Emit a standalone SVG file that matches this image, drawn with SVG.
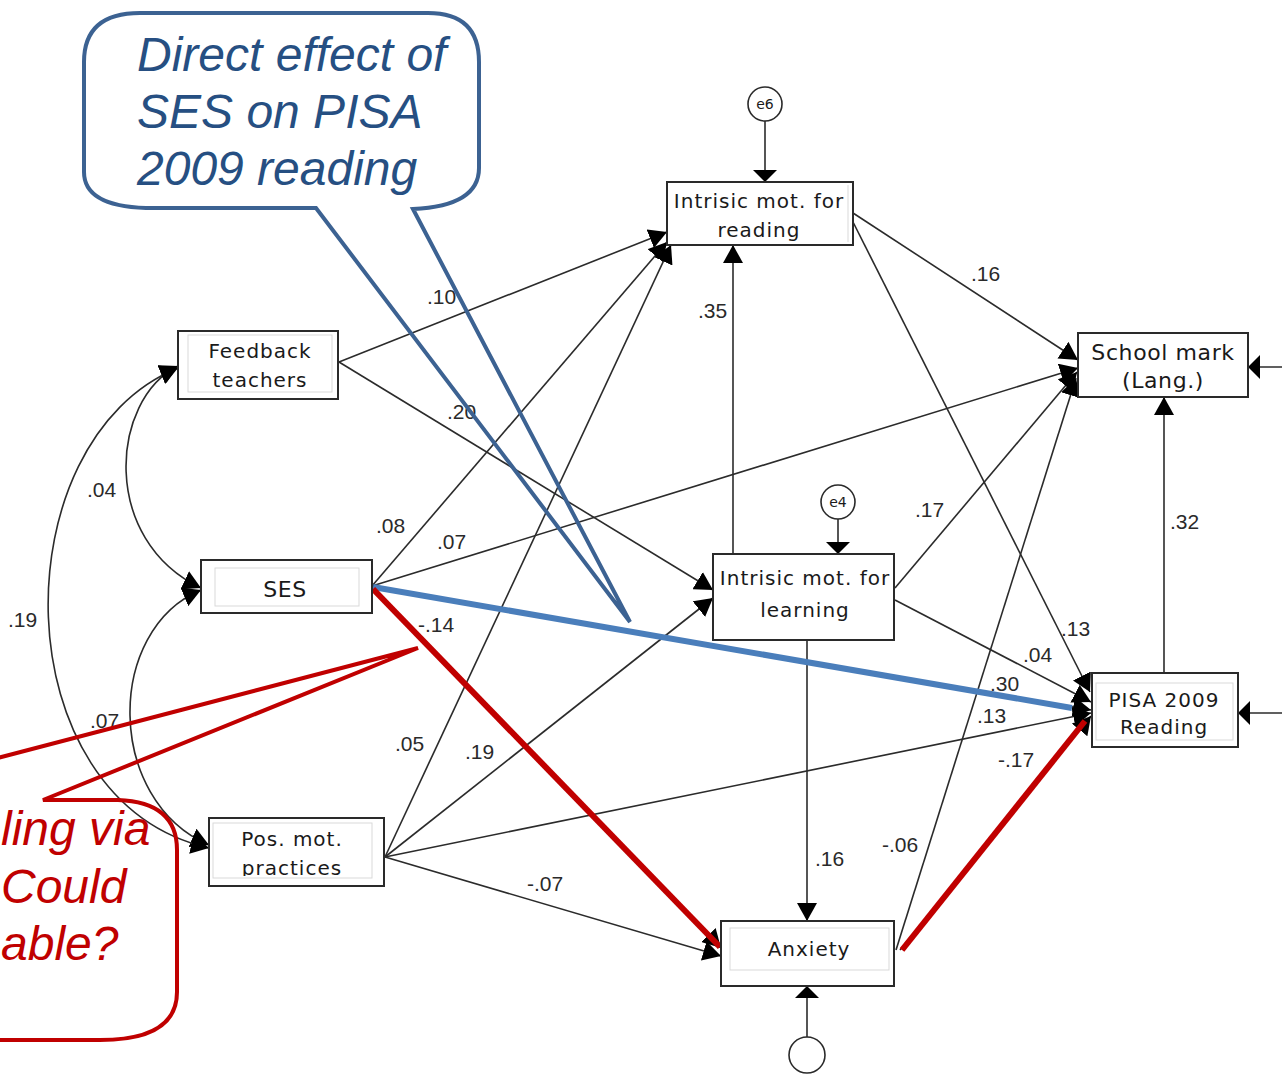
<svg xmlns="http://www.w3.org/2000/svg" width="1282" height="1075" viewBox="0 0 1282 1075">
  <defs>
    <style>
      .box { fill: #ffffff; stroke: #2a2a2a; stroke-width: 2; }
      .inner { fill: none; stroke: #d9d9d9; stroke-width: 1; }
      .lbl { font-family: "DejaVu Sans", sans-serif; font-size: 20px; letter-spacing: 1px; fill: #1a1a1a; text-anchor: middle; }
      .err { fill: #ffffff; stroke: #2a2a2a; stroke-width: 1.6; }
      .errt { font-family: "DejaVu Sans", sans-serif; font-size: 14px; fill: #1a1a1a; text-anchor: middle; }
      .path { fill: none; stroke: #2b2b2b; stroke-width: 1.6; marker-end: url(#ah); }
      .cov { fill: none; stroke: #2b2b2b; stroke-width: 1.6; marker-start: url(#ah); marker-end: url(#ah); }
      .resid { fill: none; stroke: #2b2b2b; stroke-width: 1.6; marker-end: url(#ahf); }
      .coef { font-family: "Liberation Sans", Arial, sans-serif; font-size: 21px; fill: #2a2a2a; }
      .blueline { stroke: #4a7ebb; stroke-width: 6; fill: none; }
      .redline { stroke: #c00000; stroke-width: 6; fill: none; }
      .bcall { fill: none; stroke: #3c6292; stroke-width: 4; stroke-linejoin: miter; }
      .rcall { fill: none; stroke: #c00000; stroke-width: 4; stroke-linejoin: miter; }
      .btxt { font-family: "Liberation Sans", Arial, sans-serif; font-style: italic; font-size: 48px; fill: #264f82; }
      .rtxt { font-family: "Liberation Sans", Arial, sans-serif; font-style: italic; font-size: 48px; fill: #c00000; }
    </style>
    <marker id="ah" viewBox="0 0 18 20" refX="18" refY="10" markerWidth="18" markerHeight="20" markerUnits="userSpaceOnUse" orient="auto-start-reverse">
      <path d="M0,0 L18,10 L0,20 Z" fill="#000000"/>
    </marker>
    <marker id="ahf" viewBox="0 0 12 24" refX="12" refY="12" markerWidth="12" markerHeight="24" markerUnits="userSpaceOnUse" orient="auto">
      <path d="M0,0 L12,12 L0,24 Z" fill="#000000"/>
    </marker>
    <clipPath id="posClip">
      <rect x="213" y="823" width="159" height="53"/>
    </clipPath>
  </defs>

  <rect x="0" y="0" width="1282" height="1075" fill="#ffffff"/>

  <!-- connectors: regression paths, covariances, residual arrows -->
  <g id="connectors">
    <!-- covariances between exogenous variables -->
    <path class="cov" d="M178,366 C110,400 100,540 201,588"/>
    <path class="cov" d="M201,590 C105,630 105,800 209,845"/>
    <path class="cov" d="M178,368 C0,440 0,800 209,848"/>

    <!-- Feedback teachers -->
    <line class="path" x1="339" y1="362" x2="667" y2="232"/>
    <line class="path" x1="339" y1="362" x2="713" y2="590"/>
    <!-- SES -->
    <line class="path" x1="372" y1="586" x2="667" y2="242"/>
    <line class="path" x1="372" y1="586" x2="1078" y2="368"/>
    <line class="path" x1="372" y1="586" x2="1091" y2="710"/>
    <line class="path" x1="372" y1="588" x2="721" y2="948"/>
    <!-- Pos. mot. practices -->
    <line class="path" x1="385" y1="857" x2="671" y2="245"/>
    <line class="path" x1="385" y1="857" x2="713" y2="598"/>
    <line class="path" x1="385" y1="857" x2="1091" y2="713"/>
    <line class="path" x1="385" y1="857" x2="721" y2="956"/>
    <!-- Intrinsic motivation for learning -->
    <line class="path" x1="733" y1="554" x2="733" y2="245"/>
    <line class="path" x1="895" y1="588" x2="1077" y2="372"/>
    <line class="path" x1="895" y1="600" x2="1091" y2="702"/>
    <line class="path" x1="807" y1="640" x2="807" y2="921"/>
    <!-- Intrinsic motivation for reading -->
    <line class="path" x1="853" y1="213" x2="1078" y2="360"/>
    <line class="path" x1="853" y1="222" x2="1090" y2="692"/>
    <!-- Anxiety -->
    <line class="path" x1="896" y1="950" x2="1076" y2="378"/>
    <line class="path" x1="900" y1="950" x2="1091" y2="716"/>
    <!-- PISA to school mark -->
    <line class="path" x1="1164" y1="673" x2="1164" y2="397"/>

    <!-- residual arrows -->
    <line class="resid" x1="765" y1="121" x2="765" y2="182"/>
    <line class="resid" x1="838" y1="519" x2="838" y2="554"/>
    <line class="resid" x1="807" y1="1037" x2="807" y2="986"/>
    <line class="resid" x1="1282" y1="367" x2="1248" y2="367"/>
    <line class="resid" x1="1282" y1="713" x2="1238" y2="713"/>

    <!-- highlighted paths -->
    <line class="blueline" x1="373" y1="587" x2="1072" y2="708"/>
    <line class="redline" x1="373" y1="589" x2="720" y2="947"/>
    <line class="redline" x1="902" y1="950" x2="1085" y2="721"/>
  </g>

  <!-- path coefficients -->
  <g id="coefficients">
    <text class="coef" x="427" y="304">.10</text>
    <text class="coef" x="447" y="419">.20</text>
    <text class="coef" x="698" y="318">.35</text>
    <text class="coef" x="971" y="281">.16</text>
    <text class="coef" x="376" y="533">.08</text>
    <text class="coef" x="437" y="549">.07</text>
    <text class="coef" x="418" y="632">-.14</text>
    <text class="coef" x="395" y="751">.05</text>
    <text class="coef" x="465" y="759">.19</text>
    <text class="coef" x="527" y="891">-.07</text>
    <text class="coef" x="915" y="517">.17</text>
    <text class="coef" x="1061" y="636">.13</text>
    <text class="coef" x="1023" y="662">.04</text>
    <text class="coef" x="990" y="691">.30</text>
    <text class="coef" x="977" y="723">.13</text>
    <text class="coef" x="998" y="767">-.17</text>
    <text class="coef" x="1170" y="529">.32</text>
    <text class="coef" x="815" y="866">.16</text>
    <text class="coef" x="882" y="852">-.06</text>
    <text class="coef" x="87" y="497">.04</text>
    <text class="coef" x="8" y="627">.19</text>
    <text class="coef" x="90" y="728">.07</text>
  </g>

  <!-- observed variables -->
  <g id="feedback-teachers">
    <rect class="box" x="178" y="331" width="160" height="68"/>
    <rect class="inner" x="188" y="335" width="144" height="57"/>
    <text class="lbl" x="260" y="358">Feedback</text>
    <text class="lbl" x="260" y="387">teachers</text>
  </g>

  <g id="ses">
    <rect class="box" x="201" y="560" width="171" height="53"/>
    <rect class="inner" x="215" y="568" width="144" height="38"/>
    <text class="lbl" x="285" y="597" style="font-size:22px;letter-spacing:0.5px">SES</text>
  </g>

  <g id="pos-mot-practices">
    <rect class="box" x="209" y="818" width="175" height="68"/>
    <rect class="inner" x="213" y="823" width="159" height="55"/>
    <g clip-path="url(#posClip)">
      <text class="lbl" x="292" y="846">Pos. mot.</text>
      <text class="lbl" x="292" y="875">practices</text>
    </g>
  </g>

  <g id="intrinsic-reading">
    <rect class="box" x="667" y="182" width="186" height="63"/>
    <line x1="848" y1="185" x2="848" y2="242" stroke="#d9d9d9" stroke-width="1"/>
    <text class="lbl" x="759" y="208">Intrisic mot. for</text>
    <text class="lbl" x="759" y="237">reading</text>
  </g>

  <g id="intrinsic-learning">
    <rect class="box" x="713" y="554" width="181" height="86"/>
    <text class="lbl" x="805" y="585">Intrisic mot. for</text>
    <text class="lbl" x="805" y="617">learning</text>
  </g>

  <g id="anxiety">
    <rect class="box" x="721" y="921" width="173" height="65"/>
    <rect class="inner" x="730" y="928" width="159" height="42"/>
    <text class="lbl" x="809" y="956">Anxiety</text>
  </g>

  <g id="school-mark">
    <rect class="box" x="1078" y="333" width="170" height="64"/>
    <text class="lbl" x="1163" y="360" style="font-size:22px;letter-spacing:0.6px">School mark</text>
    <text class="lbl" x="1163" y="388" style="font-size:22px;letter-spacing:0.6px">(Lang.)</text>
  </g>

  <g id="pisa-reading">
    <rect class="box" x="1092" y="673" width="146" height="74"/>
    <rect class="inner" x="1096" y="683" width="137" height="57"/>
    <text class="lbl" x="1164" y="707">PISA 2009</text>
    <text class="lbl" x="1164" y="734">Reading</text>
  </g>

  <!-- residual terms -->
  <g id="e6">
    <circle class="err" cx="765" cy="104" r="17"/>
    <text class="errt" x="765" y="109">e6</text>
  </g>
  <g id="e4">
    <circle class="err" cx="838" cy="502" r="17"/>
    <text class="errt" x="838" y="507">e4</text>
  </g>
  <g id="e-anxiety">
    <circle class="err" cx="807" cy="1055" r="18"/>
  </g>

  <!-- callouts -->
  <g id="callout-direct">
    <path class="bcall" d="M140,13 L428,13 Q479,13 479,62 L479,168 Q479,206 413,209 L630,622 L316,208 L146,208 Q84,206 84,172 L84,62 Q84,13 140,13 Z"/>
    <text class="btxt" x="137" y="71">Direct effect of</text>
    <text class="btxt" x="137" y="128">SES on PISA</text>
    <text class="btxt" x="137" y="185">2009 reading</text>
  </g>

  <g id="callout-indirect">
    <path class="rcall" d="M-10,1040 L100,1040 Q177,1040 177,992 L177,850 Q177,802 118,800 L43,800 L418,648 L-10,760"/>
    <text class="rtxt" x="1" y="845">ling via</text>
    <text class="rtxt" x="1" y="903">Could</text>
    <text class="rtxt" x="1" y="960">able?</text>
  </g>
</svg>
